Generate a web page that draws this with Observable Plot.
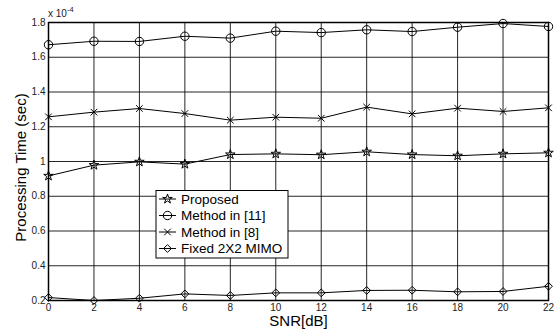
<!DOCTYPE html>
<html><head><meta charset="utf-8">
<script src="https://cdn.jsdelivr.net/npm/d3@7"></script>
<script src="https://cdn.jsdelivr.net/npm/@observablehq/plot@0.6"></script>
<style>
body{margin:0;background:#fff}
svg{font-family:"Liberation Sans",Arial,Helvetica,sans-serif}
</style>
</head><body><div id="chart"></div>
<script>
const snr = [0,2,4,6,8,10,12,14,16,18,20,22];
const proposed = [0.917,0.979,0.998,0.985,1.040,1.044,1.039,1.056,1.040,1.033,1.044,1.050];
const method11 = [1.672,1.692,1.691,1.721,1.710,1.750,1.742,1.758,1.748,1.773,1.794,1.777];
const method8 = [1.257,1.284,1.305,1.276,1.238,1.255,1.249,1.313,1.274,1.307,1.288,1.309];
const fixed2x2 = [0.217,0.200,0.213,0.238,0.229,0.244,0.244,0.258,0.259,0.250,0.252,0.282];
const seriesNames = ["Proposed","Method in [11]","Method in [8]","Fixed 2X2 MIMO"];
const seriesSymbols = ["star","circle","times","diamond2"];
const seriesR = [3,4.2,3.1,3.5];
const xTicks = [0,2,4,6,8,10,12,14,16,18,20,22];
const yTicks = [0.2,0.4,0.6,0.8,1,1.2,1.4,1.6,1.8];
const xLabel = "SNR[dB]";
const yLabel = "Processing Time (sec)";
const exponentBase = "x 10";
const exponentPow = "-4";

const values = [proposed, method11, method8, fixed2x2];
const series = seriesNames.map((name,i)=>snr.map((x,j)=>({x, y: values[i][j], name})));

const chart = Plot.plot({
  width:558, height:329,
  marginLeft:48, marginRight:10, marginTop:22, marginBottom:29,
  style:{fontFamily:'"Liberation Sans",Arial,sans-serif', fontSize:"10px", background:"#fff", color:"#000"},
  x:{domain:[0,22]},
  y:{domain:[0.2,1.8]},
  marks:[
    Plot.gridX(xTicks,{stroke:"#000", strokeOpacity:0.85, strokeWidth:1}),
    Plot.gridY(yTicks,{stroke:"#000", strokeOpacity:0.85, strokeWidth:1}),
    Plot.axisX(xTicks,{tickSize:0, tickPadding:3, tickFormat:d=>String(d), label:null, fill:"#222", fontSize:10}),
    Plot.axisY(yTicks,{tickSize:0, tickPadding:3, tickFormat:d3.format("~g"), label:null, fill:"#222", fontSize:10}),
    ...series.map(s=>Plot.line(s,{x:"x",y:"y",stroke:"#000",strokeWidth:1})),
    ...series.map((s,i)=>Plot.dot(s,{x:"x",y:"y",symbol:()=>seriesSymbols[i],stroke:"#000",fill:"none",strokeWidth:1,r:seriesR[i]})),
    Plot.frame({stroke:"#000", strokeWidth:1.5}),
    Plot.text([xLabel],{frameAnchor:"bottom", lineAnchor:"middle", textAnchor:"middle", dy:21, fontSize:15, fill:"#000"}),
    Plot.text([yLabel],{frameAnchor:"left", lineAnchor:"middle", textAnchor:"middle", dx:-27, dy:6, rotate:-90, fontSize:15, fill:"#000"})
  ]
});
document.getElementById("chart").appendChild(chart);

// exponent label and legend
const svg = d3.select(chart);
const ex = svg.append("text").attr("x",48).attr("y",17).attr("text-anchor","start").attr("font-size",10).attr("fill","#222");
ex.append("tspan").text(exponentBase);
ex.append("tspan").attr("dy",-5).attr("font-size",7.5).text(exponentPow);

const symMap = {star:d3.symbolStar, circle:d3.symbolCircle, times:d3.symbolTimes, diamond2:d3.symbolDiamond2};
const lg = svg.append("g");
lg.append("rect").attr("x",156).attr("y",190.5).attr("width",132).attr("height",67.5)
  .attr("fill","#fff").attr("stroke","#000").attr("stroke-width",1);
seriesNames.forEach((name,i)=>{
  const cy = 199 + i*16.5;
  lg.append("line").attr("x1",159).attr("x2",176).attr("y1",cy).attr("y2",cy).attr("stroke","#000");
  const r = seriesR[i];
  lg.append("path").attr("transform",`translate(167.5,${cy})`)
    .attr("d", d3.symbol(symMap[seriesSymbols[i]], Math.PI*r*r)())
    .attr("fill","none").attr("stroke","#000");
  lg.append("text").attr("x",181).attr("y",cy).attr("dy","0.36em").attr("text-anchor","start")
    .attr("font-size",13.5).attr("fill","#000").text(name);
});
</script>
</body></html>
